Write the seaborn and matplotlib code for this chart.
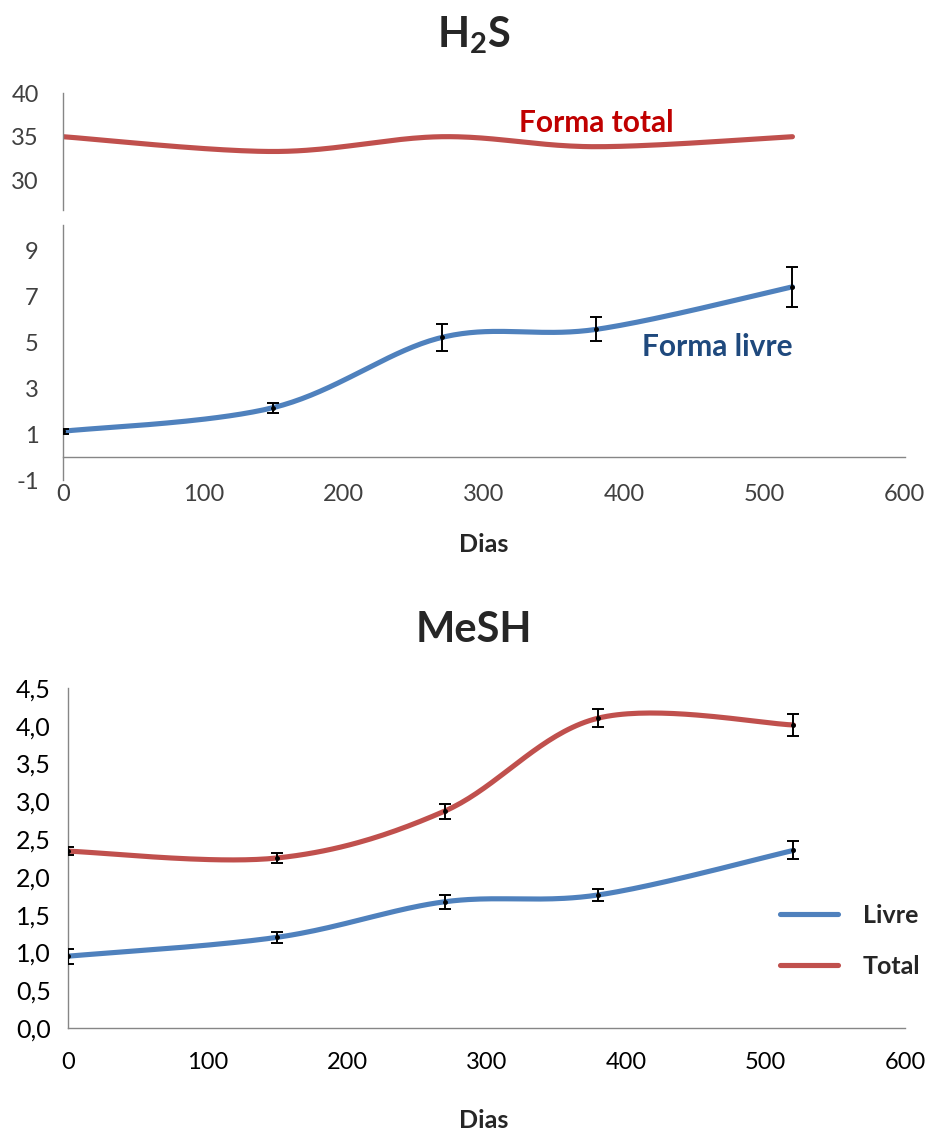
import numpy as np
import matplotlib
matplotlib.use("Agg")
import matplotlib.pyplot as plt
import seaborn as sns

# data
dias = [0, 150, 270, 380, 520]

h2s_total = [35.0, 33.3, 35.0, 33.85, 35.0]
h2s_livre = [1.12, 2.15, 5.2, 5.55, 7.4]
h2s_livre_err = [0.12, 0.22, 0.58, 0.52, 0.88]

mesh_livre = [0.95, 1.2, 1.67, 1.76, 2.35]
mesh_livre_err = [0.1, 0.07, 0.09, 0.08, 0.12]
mesh_total = [2.34, 2.25, 2.87, 4.1, 4.01]
mesh_total_err = [0.05, 0.07, 0.1, 0.12, 0.15]

x_ticks = [0, 100, 200, 300, 400, 500, 600]
h2s_hi_ticks = [30, 35, 40]
h2s_lo_ticks = [-1, 1, 3, 5, 7, 9]
mesh_ticks = [0, 0.5, 1, 1.5, 2, 2.5, 3, 3.5, 4, 4.5]
mesh_tick_labels = ["0,0", "0,5", "1,0", "1,5", "2,0", "2,5", "3,0", "3,5", "4,0", "4,5"]

BLUE = "#4F81BD"
RED = "#C0504D"
AXIS = "#868686"

sns.set_style("white")
plt.rcParams["font.family"] = ["Lato", "DejaVu Sans"]
plt.rcParams["mathtext.fontset"] = "custom"
plt.rcParams["mathtext.bf"] = "Lato:bold"
plt.rcParams["mathtext.rm"] = "Lato"
plt.rcParams["axes.unicode_minus"] = False


def smooth(x, y, n=40):
    # excel-style smoothed line (bezier with 1/6 tangents)
    x = np.asarray(x, float)
    y = np.asarray(y, float)
    px = np.concatenate([[x[0]], x, [x[-1]]])
    py = np.concatenate([[y[0]], y, [y[-1]]])
    xs, ys = [], []
    t = np.linspace(0, 1, n)
    for i in range(1, len(px) - 2):
        p0 = np.array([px[i], py[i]])
        p3 = np.array([px[i + 1], py[i + 1]])
        c1 = p0 + (np.array([px[i + 1], py[i + 1]]) - np.array([px[i - 1], py[i - 1]])) / 6
        c2 = p3 - (np.array([px[i + 2], py[i + 2]]) - np.array([px[i], py[i]])) / 6
        b = ((1 - t) ** 3)[:, None] * p0 + (3 * (1 - t) ** 2 * t)[:, None] * c1 \
            + (3 * (1 - t) * t ** 2)[:, None] * c2 + (t ** 3)[:, None] * p3
        xs.extend(b[:, 0])
        ys.extend(b[:, 1])
    return np.array(xs), np.array(ys)


def style_axis(ax, color):
    for s in ["top", "right"]:
        ax.spines[s].set_visible(False)
    for s in ["left", "bottom"]:
        ax.spines[s].set_color(AXIS)
        ax.spines[s].set_linewidth(1.0)
    ax.tick_params(direction="out", length=6.5, width=1.0, color=AXIS, labelcolor=color)


fig = plt.figure(figsize=(9.29, 11.3), dpi=100)

# ---- H2S (broken axis) ----
ax_hi = fig.add_axes([0.0678, 0.814, 0.906, 0.1035])
ax_lo = fig.add_axes([0.0678, 0.5752, 0.906, 0.2257])

sx, sy = smooth(dias, h2s_total)
sns.lineplot(x=sx, y=sy, ax=ax_hi, color=RED, lw=3.7, sort=False, estimator=None)
ax_hi.set_xlim(0, 600)
ax_hi.set_ylim(26.55, 40)
ax_hi.set_yticks(h2s_hi_ticks)
style_axis(ax_hi, "#404040")
ax_hi.spines["bottom"].set_visible(False)
ax_hi.set_xticks([])
ax_hi.tick_params(axis="y", labelsize=17, pad=11)
ax_hi.text(325, 35.5, "Forma total", color="#C00000", fontsize=21.5,
           fontweight="bold", ha="left", va="baseline")

sx, sy = smooth(dias, h2s_livre)
sns.lineplot(x=sx, y=sy, ax=ax_lo, color=BLUE, lw=3.7, sort=False, estimator=None)
ax_lo.errorbar(dias, h2s_livre, yerr=h2s_livre_err, fmt="o", ms=2.5, color="black",
               ecolor="black", elinewidth=1.4, capsize=4.5, capthick=1.4, zorder=5)
ax_lo.set_xlim(0, 600)
ax_lo.set_ylim(-1, 10.09)
ax_lo.set_yticks(h2s_lo_ticks)
ax_lo.set_xticks(x_ticks)
style_axis(ax_lo, "#404040")
ax_lo.spines["bottom"].set_position(("data", 0))
ax_lo.tick_params(axis="y", labelsize=17, pad=11)
ax_lo.tick_params(axis="x", labelsize=17, pad=13)
ax_lo.text(413, 4.39, "Forma livre", color="#1F497D", fontsize=21.5,
           fontweight="bold", ha="left", va="baseline")

fig.text(0.51, 1 - 47 / 1130, r"$\mathbf{H_2S}$", fontsize=30, ha="center", va="baseline")
fig.text(0.521, 1 - 552 / 1130, "Dias", fontsize=18, fontweight="bold",
         ha="center", va="baseline")

# ---- MeSH ----
ax_me = fig.add_axes([0.0732, 0.0903, 0.901, 0.3009])
sx, sy = smooth(dias, mesh_livre)
sns.lineplot(x=sx, y=sy, ax=ax_me, color=BLUE, lw=3.7, sort=False, estimator=None, label="Livre")
sx, sy = smooth(dias, mesh_total)
sns.lineplot(x=sx, y=sy, ax=ax_me, color=RED, lw=3.7, sort=False, estimator=None, label="Total")
ax_me.errorbar(dias, mesh_livre, yerr=mesh_livre_err, fmt="o", ms=2.5, color="black",
               elinewidth=1.4, capsize=4.5, capthick=1.4, zorder=5)
ax_me.errorbar(dias, mesh_total, yerr=mesh_total_err, fmt="o", ms=2.5, color="black",
               elinewidth=1.4, capsize=4.5, capthick=1.4, zorder=5)
ax_me.set_xlim(0, 600)
ax_me.set_ylim(0, 4.5)
ax_me.set_xticks(x_ticks)
ax_me.set_yticks(mesh_ticks)
ax_me.set_yticklabels(mesh_tick_labels)
style_axis(ax_me, "black")
ax_me.tick_params(axis="y", labelsize=18, pad=6)
ax_me.tick_params(axis="x", labelsize=17, pad=11)
ax_me.set_xlabel("")
ax_me.legend(loc="center left", bbox_to_anchor=(0.851, 0.256), frameon=False,
             prop={"size": 18, "weight": "bold"}, handlelength=2.3,
             handletextpad=1.0, labelspacing=1.1, borderpad=0, borderaxespad=0)

fig.text(0.51, 1 - 642 / 1130, "MeSH", fontsize=30, fontweight="bold",
         ha="center", va="baseline")
fig.text(0.521, 1 - 1128 / 1130, "Dias", fontsize=18, fontweight="bold",
         ha="center", va="baseline")

fig.savefig("out.png", dpi=100)
